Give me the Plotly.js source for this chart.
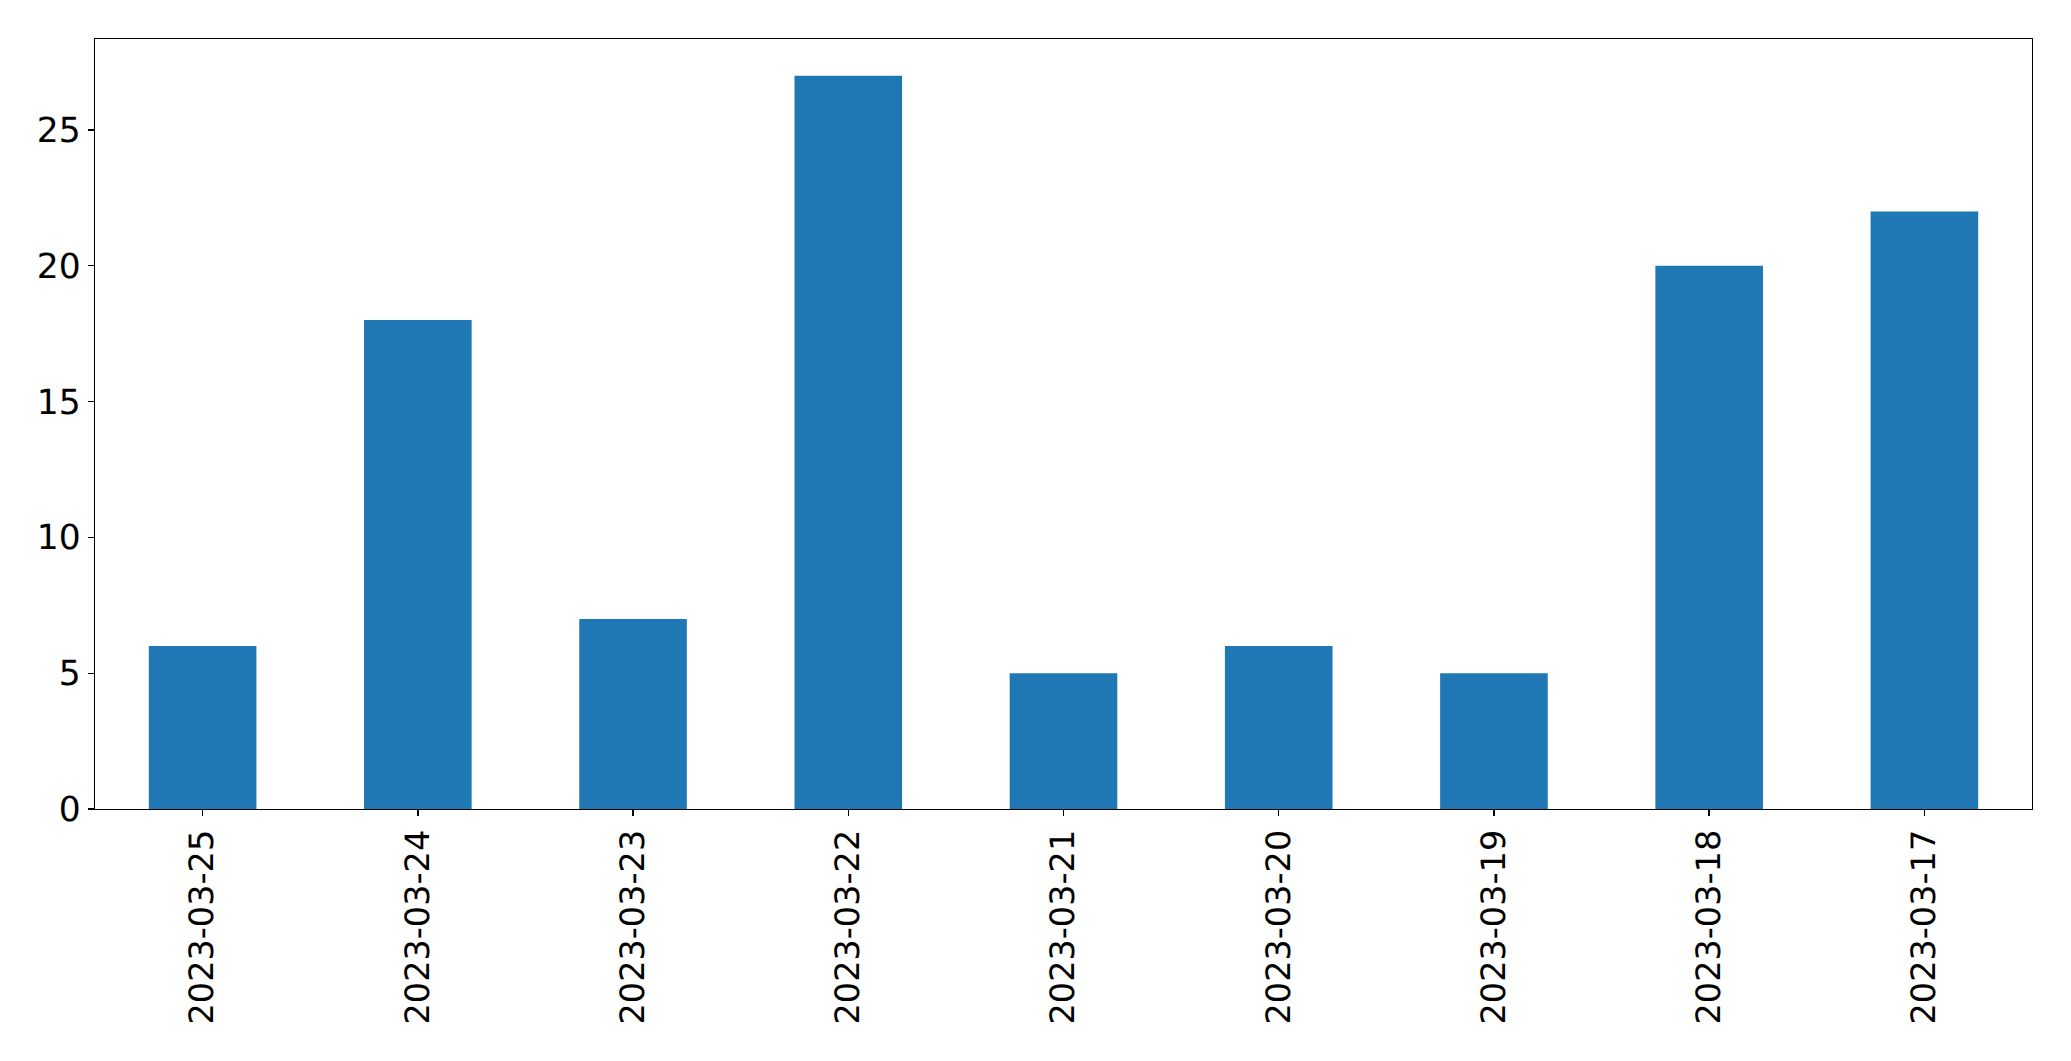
<!DOCTYPE html>
<html>
<head>
<meta charset="utf-8">
<script src="https://cdn.plot.ly/plotly-3.0.1.min.js"></script>
<style>html,body{margin:0;padding:0;background:#fff;}#chart{width:2071px;height:1061px;}
#chart text{text-rendering:geometricPrecision;}</style>
</head>
<body>
<div id="chart"></div>
<script>
const categories = ["2023-03-25","2023-03-24","2023-03-23","2023-03-22","2023-03-21","2023-03-20","2023-03-19","2023-03-18","2023-03-17"];
const values = [6, 18, 7, 27, 5, 6, 5, 20, 22];
const yTicks = [0, 5, 10, 15, 20, 25];

const trace = {
  type: 'bar',
  x: categories,
  y: values,
  width: 0.5,
  marker: {color: '#1f77b4', line: {width: 0}},
  hoverinfo: 'x+y'
};

const layout = {
  width: 2071,
  height: 1061,
  margin: {l: 95, r: 39, t: 39, b: 252, pad: 0},
  paper_bgcolor: '#ffffff',
  plot_bgcolor: '#ffffff',
  showlegend: false,
  font: {family: 'DejaVu Sans, sans-serif', size: 34, color: '#000000'},
  bargap: 0.5,
  xaxis: {
    type: 'category',
    range: [-0.5, 8.5],
    tickangle: -90,
    ticks: 'outside',
    ticklen: 6,
    tickwidth: 1.4,
    tickcolor: '#000',
    showline: true,
    linecolor: '#000',
    linewidth: 1.4,
    mirror: true,
    showgrid: false,
    zeroline: false,
    ticklabelstandoff: 0,
    tickfont: {family: 'DejaVu Sans, sans-serif', size: 33.5, color: '#000'}
  },
  yaxis: {
    range: [0, 28.35],
    tickmode: 'array',
    tickvals: yTicks,
    ticktext: yTicks.map(String),
    ticks: 'outside',
    ticklen: 6,
    tickwidth: 1.4,
    tickcolor: '#000',
    showline: true,
    linecolor: '#000',
    linewidth: 1.4,
    mirror: true,
    showgrid: false,
    zeroline: false,
    ticklabelstandoff: 0,
    tickfont: {family: 'DejaVu Sans, sans-serif', size: 34.5, color: '#000'}
  }
};

Plotly.newPlot('chart', [trace], layout, {displayModeBar: false, staticPlot: true});
</script>
</body>
</html>
